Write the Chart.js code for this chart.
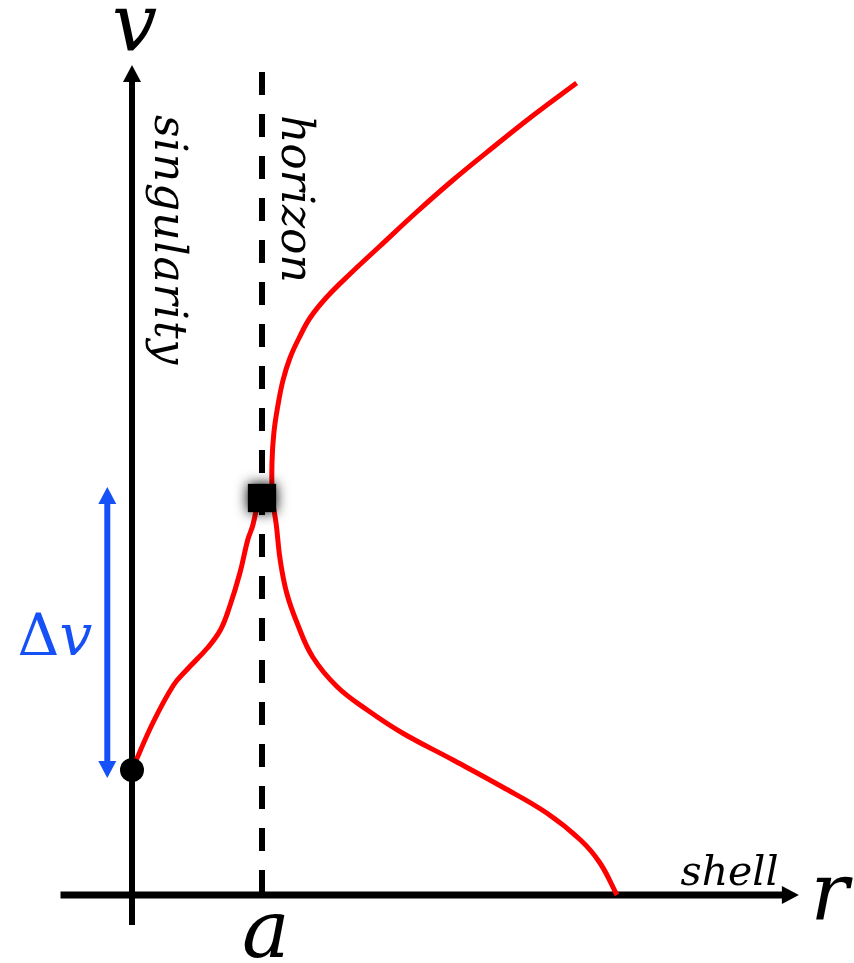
<!DOCTYPE html>
<html>
<head>
<meta charset="utf-8">
<script src="https://cdn.jsdelivr.net/npm/chart.js@4"></script>
<style>
  html, body { margin: 0; padding: 0; background: #fff; }
  canvas { display: block; }
</style>
</head>
<body>
<canvas id="plot" width="854" height="963"></canvas>
<script>
// r in units of the horizon radius a, v in arbitrary time units
const leftBranchR = [0, 0.16, 0.32, 0.42, 0.58, 0.68, 0.75, 0.83, 0.89, 0.93, 0.97];
const leftBranchV = [1.25, 1.72, 2.10, 2.25, 2.47, 2.65, 2.88, 3.22, 3.55, 3.70, 3.95];

const rightBranchR = [3.42, 3.09, 2.78, 2.47, 2.19, 1.908, 1.677, 1.492, 1.369, 1.285, 1.215, 1.162, 1.123, 1.092, 1.077, 1.08,
                      1.11, 1.14, 1.19, 1.27, 1.39, 1.58, 1.81, 2.08, 2.47, 2.85, 3.19, 3.45, 3.60, 3.73];
const rightBranchV = [8.12, 7.80, 7.48, 7.15, 6.83, 6.49, 6.21, 5.97, 5.77, 5.57, 5.37, 5.15, 4.90, 4.63, 4.33, 3.98,
                      3.70, 3.35, 3.02, 2.72, 2.38, 2.08, 1.85, 1.62, 1.35, 1.08, 0.82, 0.55, 0.32, 0];

const horizonR = 1;
const horizonV = [0.02, 8.29];
const singularPoint = { r: 0, v: 1.25 };
const horizonCrossing = { r: 1, v: 3.97 };
const deltaV = [1.17, 4.08];
const deltaVr = -0.19;

const rAxisRange = [-0.55, 5.13];
const vAxisRange = [-0.30, 8.30];

const labels = {
  v: 'v', r: 'r', a: 'a', shell: 'shell',
  singularity: 'singularity', horizon: 'horizon', deltaV: 'v'
};

const pts = (rs, vs) => rs.map((r, i) => ({ x: r, y: vs[i] }));

// shaft stops short of the tip so the arrow head stays sharp
const headLenR = 0.13, headLenV = 0.16;

const blurSquare = {
  id: 'blurSquare',
  beforeDatasetDraw(chart, args) {
    if (chart.data.datasets[args.index].blur) {
      chart.ctx.save();
      chart.ctx.shadowColor = 'rgba(0,0,0,1)';
      chart.ctx.shadowBlur = 13;
    }
  },
  afterDatasetDraw(chart, args) {
    if (chart.data.datasets[args.index].blur) chart.ctx.restore();
  }
};

const decorations = {
  id: 'decorations',
  afterDatasetsDraw(chart) {
    const ctx = chart.ctx;
    const sx = chart.scales.x, sy = chart.scales.y;
    const X = v => sx.getPixelForValue(v), Y = v => sy.getPixelForValue(v);

    function head(x, y, dir, color) {
      const len = 17, half = 9;
      ctx.fillStyle = color;
      ctx.beginPath();
      if (dir === 'up') { ctx.moveTo(x, y); ctx.lineTo(x - half, y + len); ctx.lineTo(x + half, y + len); }
      if (dir === 'down') { ctx.moveTo(x, y); ctx.lineTo(x - half, y - len); ctx.lineTo(x + half, y - len); }
      if (dir === 'right') { ctx.moveTo(x, y); ctx.lineTo(x - len, y - half); ctx.lineTo(x - len, y + half); }
      ctx.closePath();
      ctx.fill();
    }
    ctx.save();
    head(X(0), Y(vAxisRange[1]), 'up', '#000');
    head(X(rAxisRange[1]), Y(0), 'right', '#000');
    head(X(deltaVr), Y(deltaV[1]), 'up', '#1650f7');
    head(X(deltaVr), Y(deltaV[0]), 'down', '#1650f7');

    ctx.fillStyle = '#000';
    ctx.textBaseline = 'alphabetic';
    ctx.font = 'italic 80px "DejaVu Serif"';
    ctx.textAlign = 'center';
    ctx.fillText(labels.v, X(0.02), Y(8.44));
    ctx.fillText(labels.a, X(1.03), Y(-0.62));
    ctx.textAlign = 'left';
    ctx.fillText(labels.r, X(5.22), Y(-0.25));

    ctx.font = 'italic 41px "DejaVu Serif"';
    ctx.fillText(labels.shell, X(4.22), Y(0.10));

    ctx.font = 'italic 44px "DejaVu Serif"';
    ctx.save();
    ctx.translate(X(0.18), Y(7.80));
    ctx.rotate(Math.PI / 2);
    ctx.letterSpacing = '1px';
    ctx.fillText(labels.singularity, 0, 0);
    ctx.restore();
    ctx.save();
    ctx.translate(X(1.15), Y(7.80));
    ctx.rotate(Math.PI / 2);
    ctx.fillText(labels.horizon, 0, 0);
    ctx.restore();

    ctx.fillStyle = '#1650f7';
    ctx.font = '58px "DejaVu Serif"';
    ctx.fillText('\u0394', X(-0.88), Y(2.40));
    const w = ctx.measureText('\u0394').width;
    ctx.font = 'italic 58px "DejaVu Serif"';
    ctx.fillText(labels.deltaV, X(-0.88) + w, Y(2.40));
    ctx.restore();
  }
};

new Chart(document.getElementById('plot'), {
  type: 'scatter',
  data: {
    datasets: [
      { data: [{ x: horizonCrossing.r, y: horizonCrossing.v }], pointStyle: 'rect', pointRadius: 20,
        backgroundColor: '#000', borderWidth: 0, showLine: false, order: 0, blur: true },
      { data: [{ x: singularPoint.r, y: singularPoint.v }], pointRadius: 12,
        backgroundColor: '#000', borderWidth: 0, showLine: false, order: 1 },
      { data: pts(leftBranchR, leftBranchV), showLine: true, borderColor: '#ff0000', borderWidth: 5,
        tension: 0.4, pointRadius: 0, order: 2 },
      { data: pts(rightBranchR, rightBranchV), showLine: true, borderColor: '#ff0000', borderWidth: 5,
        tension: 0.4, pointRadius: 0, order: 2 },
      { data: pts([horizonR, horizonR], horizonV), showLine: true, borderColor: '#000', borderWidth: 6,
        borderDash: [23, 19], pointRadius: 0, order: 4 },
      { data: pts([0, 0], [vAxisRange[0], vAxisRange[1] - headLenV]), showLine: true, borderColor: '#000',
        borderWidth: 6, pointRadius: 0, order: 5 },
      { data: pts([rAxisRange[0], rAxisRange[1] - headLenR], [0, 0]), showLine: true, borderColor: '#000',
        borderWidth: 7, pointRadius: 0, order: 5 },
      { data: pts([deltaVr, deltaVr], [deltaV[0] + headLenV, deltaV[1] - headLenV]), showLine: true,
        borderColor: '#1650f7', borderWidth: 6, pointRadius: 0, order: 5 }
    ]
  },
  options: {
    responsive: false,
    animation: false,
    events: [],
    layout: { padding: 0, autoPadding: false },
    plugins: { legend: { display: false }, tooltip: { enabled: false } },
    scales: {
      x: { type: 'linear', display: false, min: -132 / 130, max: 722 / 130 },
      y: { type: 'linear', display: false, min: -0.68, max: 8.95 }
    }
  },
  plugins: [blurSquare, decorations]
});
</script>
</body>
</html>
